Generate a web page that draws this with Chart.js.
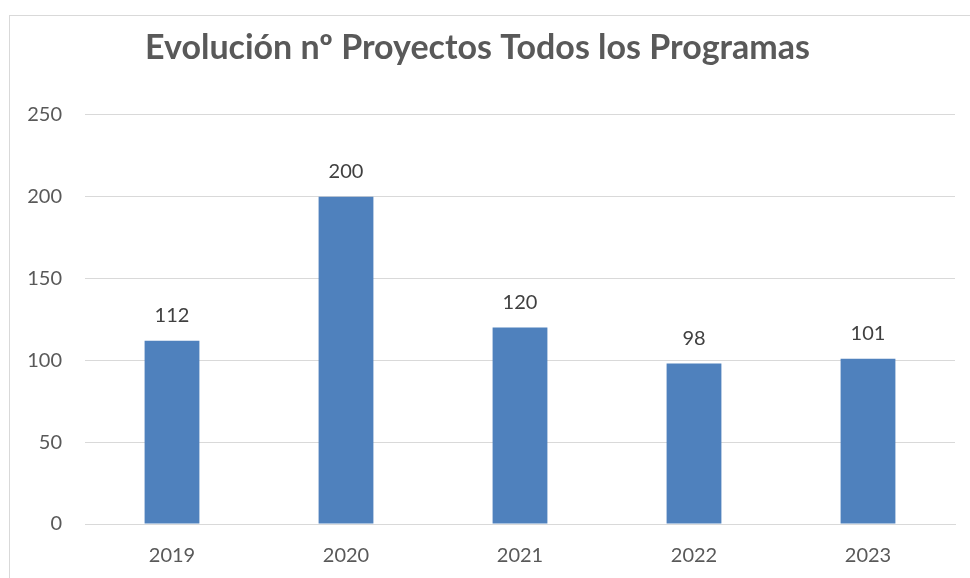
<!DOCTYPE html>
<html lang="es">
<head>
<meta charset="UTF-8">
<title>Evolución nº Proyectos</title>
<script src="https://cdn.jsdelivr.net/npm/chart.js"></script>
<style>
  html, body { margin: 0; padding: 0; background: #fff; overflow: hidden; }
  .marco { position: absolute; left: 9px; top: 15px; width: 1000px; height: 600px; border: 1px solid #d9d9d9; }
  .chart-box { position: absolute; left: 0; top: 0; width: 970px; height: 578px; }
</style>
</head>
<body>
<div class="marco"></div>
<div class="chart-box"><canvas id="proyectosChart"></canvas></div>
<script>
const years = ['2019', '2020', '2021', '2022', '2023'];
const projects = [112, 200, 120, 98, 101];
const yTicks = [0, 50, 100, 150, 200, 250];

const fontFam = "Lato, 'Open Sans', sans-serif";

// etiquetas encima de cada barra
const barLabels = {
  id: 'barLabels',
  afterDatasetsDraw(chart) {
    const ctx = chart.ctx;
    const meta = chart.getDatasetMeta(0);
    ctx.save();
    ctx.font = '20px ' + fontFam;
    ctx.fillStyle = '#404040';
    ctx.textAlign = 'center';
    ctx.textBaseline = 'middle';
    meta.data.forEach((bar, i) => {
      ctx.fillText(projects[i], bar.x, bar.y - 25);
    });
    ctx.restore();
  }
};

new Chart(document.getElementById('proyectosChart'), {
  type: 'bar',
  data: {
    labels: years,
    datasets: [{
      data: projects,
      backgroundColor: '#4f81bd',
      categoryPercentage: 1,
      barPercentage: 0.315
    }]
  },
  options: {
    responsive: true,
    maintainAspectRatio: false,
    animation: false,
    layout: { padding: { left: 0, right: 15, top: 0, bottom: 0 } },
    plugins: {
      legend: { display: false },
      tooltip: { enabled: false },
      title: {
        display: true,
        text: 'Evolución nº Proyectos Todos los Programas',
        color: '#595959',
        font: { family: fontFam, size: 34, weight: 'bold' },
        padding: { top: 28, bottom: 46 }
      }
    },
    scales: {
      x: {
        grid: { display: false, drawTicks: false },
        border: { color: '#d9d9d9' },
        ticks: { color: '#595959', font: { family: fontFam, size: 20 }, padding: 20 },
        afterFit(scale) { scale.height = 54; }
      },
      y: {
        min: 0,
        max: 250,
        afterBuildTicks(scale) { scale.ticks = yTicks.map(v => ({ value: v })); },
        grid: { color: '#d9d9d9', drawTicks: false },
        border: { display: false },
        ticks: { color: '#595959', font: { family: fontFam, size: 20 }, padding: 23 },
        afterFit(scale) { scale.width = 85; }
      }
    }
  },
  plugins: [barLabels]
});
</script>
</body>
</html>
